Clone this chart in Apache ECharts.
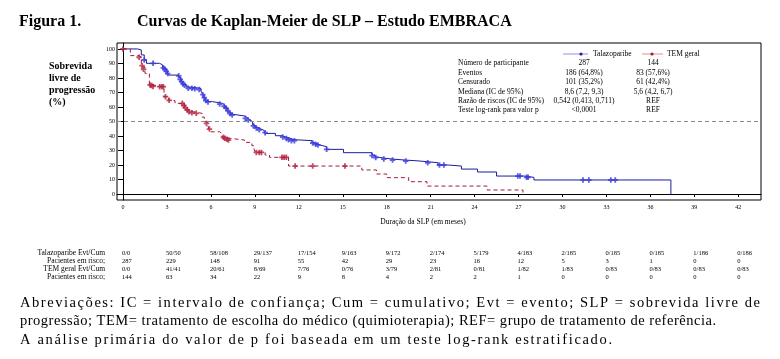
<!DOCTYPE html>
<html><head><meta charset="utf-8">
<script src="https://cdn.jsdelivr.net/npm/echarts@6/dist/echarts.min.js"></script>
<style>html,body{margin:0;padding:0;background:#fff}#c{width:780px;height:359px}</style>
</head><body><div id="c"></div>
<script>
// ---------- DATA ----------
const xTicks = [0,3,6,9,12,15,18,21,24,27,30,33,36,39,42];
const yTicks = [0,10,20,30,40,50,60,70,80,90,100];

// Kaplan-Meier step points [month, % survival]
const taloSteps = [[0,100],[1.0,99.3],[1.25,95.9],[1.45,92.4],[1.6,90.1],[2.5,89],[2.7,87.5],[2.85,86],[3.0,84],[3.1,82],[3.8,80.5],[3.95,78.5],[4.05,77],[4.15,75.5],[4.3,74],[4.4,72.9],[5.3,71.5],[5.4,69.4],[5.5,67.5],[5.6,65.5],[5.7,63.7],[6.1,62.5],[6.8,61.4],[6.95,59.5],[7.1,58],[7.2,56.5],[7.35,55],[7.5,53.8],[8.3,52.5],[8.5,51.2],[8.65,49.9],[8.85,47.6],[9.0,46],[9.2,45],[9.35,44.1],[9.6,42.8],[9.7,41.8],[10.4,40.2],[10.85,39.3],[11.1,38.5],[11.4,37.5],[11.6,36.8],[12.9,35.4],[13.1,34.5],[13.25,33.8],[13.45,32.6],[13.9,30.8],[15.05,28.5],[17.0,26.9],[17.2,25.5],[17.35,24.8],[17.8,24.1],[18.4,23.4],[19.3,22.8],[20.2,21.6],[21.5,20],[22.2,19.3],[23.1,17.2],[24.2,15.2],[25.5,12.4],[27.4,11.5],[28.05,9.7],[37.4,0]];
const taloCens = [[1.45,92.4],[2.05,90.1],[2.75,87],[2.85,86],[2.95,84.5],[3.05,83],[3.8,81.5],[3.9,79],[4.0,77.5],[4.1,76],[4.2,75],[4.45,72.9],[4.7,72.9],[4.9,72.5],[5.2,72],[5.45,68.5],[5.55,66.5],[5.65,64.5],[5.8,63.5],[6.6,62],[6.9,60.5],[7.05,59],[7.15,57.5],[7.3,55.5],[7.45,54.5],[8.35,52.2],[8.55,51],[8.9,47],[9.1,45.5],[9.3,44.3],[9.7,42.3],[10.9,39.3],[11.15,38.3],[11.3,37.5],[11.5,36.8],[11.7,36.8],[12.95,35.2],[13.15,34.3],[13.3,33.8],[13.9,30.8],[17.0,26.5],[17.25,25.2],[17.8,24.1],[18.4,23.4],[19.3,22.8],[20.8,21.6],[21.6,20],[21.9,20],[26.95,12.4],[27.1,12.4],[27.55,11.5],[27.65,11.5],[31.4,9.7],[31.8,9.7],[33.3,9.7],[33.6,9.7]];

const temSteps = [[0,100],[0.5,95.4],[1.1,94.3],[1.25,89],[1.35,87.6],[1.5,83.2],[1.8,75.2],[2.0,74],[2.8,67.1],[3.1,64.8],[3.2,64.4],[3.55,62.5],[4.2,60],[4.35,57.9],[4.5,56.8],[4.8,55.6],[5.4,53],[5.55,49.9],[5.75,48.7],[5.85,44.8],[5.95,42.9],[6.6,41.8],[6.75,39.5],[7.0,38.5],[7.2,37.2],[8.3,35.6],[8.8,33.3],[8.95,30.5],[9.05,28.7],[9.7,26.9],[10.0,25.3],[11.3,19.3],[16.3,16.6],[17.3,13.8],[18.0,11.3],[19.5,8.5],[20.75,5.5],[24.85,2.8],[27.3,0]];
const temCens = [[0,100],[1.1,94.3],[1.3,88.5],[1.4,86],[1.85,75.2],[1.95,74.8],[2.05,74.2],[2.5,74],[2.65,74],[2.75,74],[2.9,67.1],[3.15,64.6],[4.05,62.5],[4.15,61],[4.25,59.5],[4.4,57.9],[4.5,56.8],[4.7,56],[5.0,55.6],[5.7,48.7],[5.9,44.8],[6.85,39.1],[6.95,38.5],[7.1,37.7],[7.2,37.2],[9.1,28.7],[9.3,28.7],[9.45,28.7],[10.85,25.3],[11.0,25.3],[11.15,25.3],[11.75,19.3],[12.95,19.3],[15.15,19.3]];

const seriesNames = ['Talazoparibe','TEM geral'];
const statLabels = ['Número de participante','Eventos','Censurado','Mediana (IC de 95%)','Razão de riscos (IC de 95%)','Teste log-rank para valor p'];
const statTalo = ['287','186 (64,8%)','101 (35,2%)','8,6 (7,2, 9,3)','0,542 (0,413, 0,711)','<0,0001'];
const statTem = ['144','83 (57,6%)','61 (42,4%)','5,6 (4,2, 6,7)','REF','REF'];

const riskLabels = ['Talazoparibe Evt/Cum','Pacientes em risco;','TEM geral Evt/Cum','Pacientes em risco;'];
const taloEvt = ['0/0','50/50','58/108','29/137','17/154','9/163','9/172','2/174','5/179','4/183','2/185','0/185','0/185','1/186','0/186'];
const taloRisk = ['287','229','148','91','55','42','29','23','16','12','5','3','1','0','0'];
const temEvt = ['0/0','41/41','20/61','8/69','7/76','0/76','3/79','2/81','0/81','1/82','1/83','0/83','0/83','0/83','0/83'];
const temRisk = ['144','63','34','22','9','8','4','2','2','1','0','0','0','0','0'];

const titleLeft = 'Figura 1.';
const titleMain = 'Curvas de Kaplan-Meier de SLP – Estudo EMBRACA';
const yTitle = ['Sobrevida','livre de','progressão','(%)'];
const xTitle = 'Duração da SLP (em meses)';
const footLines = ['Abreviações: IC = intervalo de confiança; Cum = cumulativo; Evt = evento; SLP = sobrevida livre de',
 'progressão; TEM= tratamento de escolha do médico (quimioterapia); REF= grupo de tratamento de referência.',
 'A análise primária do valor de p foi baseada em um teste log-rank estratificado.'];

// ---------- CHART ----------
const BLUE='#1c1c9c', BLUEM='#3a3ae0', RED='#a01c38', REDM='#b4203e';
const SERIF='"Liberation Serif", "Times New Roman", serif';
const plus='path://M2,0H4V2H6V4H4V6H2V4H0V2H2Z';
const chart = echarts.init(document.getElementById('c'), null, {renderer:'canvas'});
const option = {
  animation:false,
  backgroundColor:'#fff',
  grid:{left:117, right:19, top:43, bottom:159, show:true, borderColor:'#000', borderWidth:1, containLabel:false},
  xAxis:{type:'value', min:-0.41, max:43.55,
    axisLine:{lineStyle:{color:'#000',width:1}},
    axisTick:{show:true, length:3, lineStyle:{color:'#000'}, customValues:xTicks},
    axisLabel:{customValues:xTicks, fontSize:6, fontFamily:SERIF, color:'#000', margin:4},
    splitLine:{show:false}},
  yAxis:{type:'value', min:-4.1, max:104.1,
    axisLine:{show:true, lineStyle:{color:'#000',width:1}},
    axisTick:{show:true, length:5, lineStyle:{color:'#000'}, customValues:yTicks},
    axisLabel:{customValues:yTicks, fontSize:6, fontFamily:SERIF, color:'#000', margin:2},
    splitLine:{show:false}},
  series:[
    {name:seriesNames[0], type:'line', step:'end', data:taloSteps, showSymbol:false, symbol:'none',
      lineStyle:{color:BLUE, width:1}, z:3,
      markLine:{silent:true, symbol:'none', label:{show:false}, data:[{yAxis:50}],
        lineStyle:{color:'#8a8a8a', type:[4,3], width:1}}},
    {name:seriesNames[1], type:'line', step:'end', data:temSteps, showSymbol:false, symbol:'none',
      lineStyle:{color:RED, width:1, type:[4,3]}, z:3},
    {type:'scatter', data:taloCens, symbol:plus, symbolSize:5.5, itemStyle:{color:BLUEM}, z:4},
    {type:'scatter', data:temCens, symbol:plus, symbolSize:5.5, itemStyle:{color:REDM}, z:4}
  ]
};
chart.setOption(option);

const g = [];
const txt = (x,y,s,o={}) => g.push({type:'text', x, y, silent:true, style:Object.assign({text:s, fill:'#000', font:'7.5px '+SERIF, textAlign:'left', textVerticalAlign:'middle'}, o)});
// titles
txt(19,22,titleLeft,{font:'bold 16px '+SERIF});
txt(137,22,titleMain,{font:'bold 16px '+SERIF});
yTitle.forEach((s,i)=>txt(49,66+i*12.3,s,{font:'bold 10px '+SERIF}));
txt(423,222,xTitle,{font:'7.5px '+SERIF, textAlign:'center'});
// legend
g.push({type:'line', silent:true, shape:{x1:563,y1:54,x2:588,y2:54}, style:{stroke:'#9090e0',lineWidth:1}});
g.push({type:'circle', silent:true, shape:{cx:581,cy:54,r:1.6}, style:{fill:BLUE}});
txt(593,54,seriesNames[0]);
g.push({type:'line', silent:true, shape:{x1:642,y1:54,x2:663,y2:54}, style:{stroke:'#e09090',lineWidth:1}});
g.push({type:'circle', silent:true, shape:{cx:652,cy:54,r:1.6}, style:{fill:RED}});
txt(667,54,seriesNames[1]);
// stats
const rowY=[63,73,82,92,101,110];
statLabels.forEach((s,i)=>{ txt(458,rowY[i],s); txt(584,rowY[i],statTalo[i],{textAlign:'center'}); txt(653,rowY[i],statTem[i],{textAlign:'center'}); });
// risk table
const rY=[253,261,269,277];
riskLabels.forEach((s,i)=>txt(105,rY[i],s,{textAlign:'right'}));
[taloEvt,taloRisk,temEvt,temRisk].forEach((arr,r)=>{
  arr.forEach((v,i)=>{ const px = chart.convertToPixel({xAxisIndex:0}, xTicks[i]); txt(px-1,rY[r],v,{font:'6.5px '+SERIF}); });
});
// footnote: letter-spaced lines
const footFont='14.5px "Liberation Serif", serif';
const footW=[740,696,592];
const cv=document.createElement('canvas').getContext('2d'); cv.font=footFont;
footLines.forEach((s,li)=>{
  const chars=[...s];
  const ws=chars.map(c=>cv.measureText(c).width);
  const W=ws.reduce((a,b)=>a+b,0);
  const extra=(footW[li]-W)/(chars.length-1);
  let x=20;
  chars.forEach((c,i)=>{ if(c!==' ') txt(x,303+li*18.5,c,{font:footFont}); x+=ws[i]+extra; });
});
chart.setOption({graphic:g});
</script></body></html>
